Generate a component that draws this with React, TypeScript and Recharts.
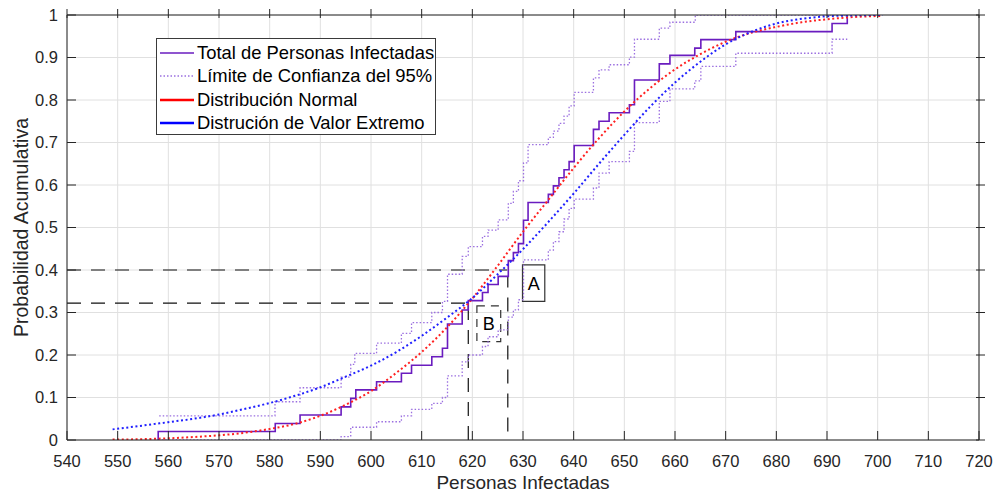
import React from 'react';
import { LineChart, Line, XAxis, YAxis, CartesianGrid, ReferenceLine, ReferenceArea, Legend } from 'recharts';

const xTicks = [540, 550, 560, 570, 580, 590, 600, 610, 620, 630, 640, 650, 660, 670, 680, 690, 700, 710, 720];
const yTicks = [0, 0.1, 0.2, 0.3, 0.4, 0.5, 0.6, 0.7, 0.8, 0.9, 1];

const ecdfX = [558, 558, 581.1, 586, 594.1, 596, 597, 601.1, 606, 608, 612, 614.1, 615.1, 618, 619.2, 622, 623.1, 625.1, 627.1, 628.1, 629.1, 630.1, 631, 635, 636, 637.1, 638.1, 639.1, 640.1, 643.9, 645, 647, 651, 652, 656.9, 659, 663.9, 665.1, 672, 691, 694];
const ecdfY = [0, 0.02, 0.039, 0.059, 0.078, 0.098, 0.118, 0.137, 0.157, 0.176, 0.196, 0.216, 0.273, 0.306, 0.328, 0.347, 0.366, 0.385, 0.422, 0.441, 0.462, 0.517, 0.559, 0.578, 0.598, 0.617, 0.636, 0.655, 0.693, 0.731, 0.75, 0.77, 0.789, 0.847, 0.885, 0.905, 0.922, 0.942, 0.961, 0.98, 1];

// 95% confidence bounds
const upperX = [558.2, 581.05, 586, 594.1, 596, 596.8, 601.1, 606, 608, 612, 614.1, 615.1, 618, 619.2, 622, 623.1, 625.1, 627.1, 628.1, 629.1, 630.1, 631, 635, 636, 637.1, 638.1, 639.1, 640.1, 643.9, 645, 647, 651, 652, 656.9, 659, 664, 694];
const upperY = [0.057, 0.09, 0.123, 0.148, 0.178, 0.204, 0.228, 0.251, 0.276, 0.3, 0.326, 0.39, 0.432, 0.455, 0.479, 0.494, 0.518, 0.557, 0.585, 0.61, 0.652, 0.695, 0.712, 0.727, 0.745, 0.762, 0.786, 0.818, 0.852, 0.871, 0.883, 0.901, 0.943, 0.969, 0.983, 1, 1];
const lowerX = [558, 594.1, 596, 601.1, 606, 608, 612, 614.1, 615.1, 618, 619.2, 622, 623.1, 625.1, 627.1, 628.1, 629.1, 630.1, 635, 636, 637.1, 638.1, 639.1, 640.1, 643.9, 645, 647, 651, 652, 656.9, 659, 663.9, 665.1, 672, 691, 694];
const lowerY = [0, 0.008, 0.03, 0.043, 0.057, 0.072, 0.086, 0.1, 0.151, 0.184, 0.2, 0.22, 0.243, 0.259, 0.289, 0.306, 0.33, 0.424, 0.447, 0.467, 0.49, 0.52, 0.545, 0.567, 0.593, 0.628, 0.655, 0.679, 0.747, 0.797, 0.826, 0.845, 0.879, 0.91, 0.943, 0.943];

// fitted curves
const fitX = [549, 555, 560, 565, 570, 575, 580, 585, 590, 595, 600, 605, 610, 615, 620, 625, 630, 635, 640, 645, 650, 655, 660, 665, 670, 675, 680, 685, 690, 695, 701];
const normalY = [0.001, 0.002, 0.004, 0.007, 0.011, 0.017, 0.026, 0.038, 0.057, 0.083, 0.115, 0.158, 0.207, 0.265, 0.333, 0.41, 0.49, 0.565, 0.64, 0.71, 0.773, 0.827, 0.872, 0.908, 0.937, 0.958, 0.972, 0.983, 0.99, 0.995, 0.998];
const extremeY = [0.025, 0.034, 0.042, 0.05, 0.06, 0.073, 0.087, 0.104, 0.124, 0.149, 0.175, 0.207, 0.245, 0.288, 0.334, 0.39, 0.449, 0.513, 0.58, 0.65, 0.718, 0.783, 0.841, 0.89, 0.931, 0.96, 0.98, 0.991, 0.997, 0.999, 1];

const toPoints = (xs: number[], ys: number[]) => xs.map((x, i) => ({ x, y: ys[i] }));

const legendItems = [
    { name: 'Total de Personas Infectadas', color: '#6a1cbf', width: 1.5, dash: '' },
    { name: 'Límite de Confianza del 95%', color: '#9b6fe0', width: 1.3, dash: '1.5 2' },
    { name: 'Distribución Normal', color: '#ff0000', width: 2.5, dash: '' },
    { name: 'Distrución de Valor Extremo', color: '#0000ff', width: 2.5, dash: '' },
];

const FONT = '"Liberation Sans", Arial, Helvetica, sans-serif';
const AXIS = '#262626';
const TICK_LEN = 9;

const ChartLegend = () => (
    <div style={{ boxSizing: 'border-box', width: 280, height: 97, border: '1px solid #3a3a3a', background: '#fff', padding: '2px 0 0 3px', fontFamily: FONT }}>
        {legendItems.map(item => (
            <div key={item.name} style={{ display: 'flex', alignItems: 'center', height: 23.5 }}>
                <svg width={36} height={10}>
                    <line x1={0} y1={5} x2={34} y2={5} stroke={item.color} strokeWidth={item.width} strokeDasharray={item.dash || undefined} />
                </svg>
                <span style={{ marginLeft: 1, fontSize: 18.4, color: '#000', whiteSpace: 'nowrap' }}>{item.name}</span>
            </div>
        ))}
    </div>
);

const YLabel = ({ viewBox }: any) => {
    const cy = viewBox.y + viewBox.height / 2;
    return (
        <text x={21} y={cy} transform={`rotate(-90, 21, ${cy})`} textAnchor="middle" dominantBaseline="central" fill={AXIS} fontSize={19.5}>
            Probabilidad Acumulativa
        </text>
    );
};

const XLabel = ({ viewBox }: any) => (
    <text x={viewBox.x + viewBox.width / 2} y={489} textAnchor="middle" fill={AXIS} fontSize={19}>
        Personas Infectadas
    </text>
);

// inward tick marks for the top and right sides of the box
const TopTick = ({ x, y }: any) => <line x1={x} y1={y} x2={x} y2={y + TICK_LEN} stroke={AXIS} strokeWidth={1} />;
const RightTick = ({ x, y }: any) => <line x1={x - TICK_LEN} y1={y} x2={x} y2={y} stroke={AXIS} strokeWidth={1} />;

export default function App() {
    return (
        <div style={{ position: 'absolute', left: 0, top: 0, width: 997, height: 493, background: '#fff', fontFamily: FONT }}>
            <LineChart width={997} height={493} margin={{ top: 14, right: 17, bottom: 0, left: 0 }}>
                <CartesianGrid stroke="#e0e0e0" />
                <XAxis dataKey="x" type="number" domain={[540, 720]} ticks={xTicks} interval={0} allowDataOverflow
                    height={53} tickSize={-TICK_LEN} tickMargin={24} stroke={AXIS}
                    tick={{ fill: AXIS, fontSize: 16.5 }}
                    label={<XLabel />} />
                <XAxis xAxisId="top" dataKey="x" type="number" orientation="top" domain={[540, 720]} ticks={xTicks} interval={0} allowDataOverflow
                    height={1} tickLine={false} tickMargin={0} tick={<TopTick />} stroke={AXIS} />
                <YAxis type="number" domain={[0, 1]} ticks={yTicks} interval={0} allowDataOverflow width={67}
                    tickSize={-TICK_LEN} tickMargin={18} stroke={AXIS} tick={{ fill: AXIS, fontSize: 16.5 }}
                    label={<YLabel />} />
                <YAxis yAxisId="right" orientation="right" type="number" domain={[0, 1]} ticks={yTicks} interval={0} allowDataOverflow
                    width={1} tickLine={false} tickMargin={0} tick={<RightTick />} stroke={AXIS} />

                <ReferenceLine segment={[{ x: 540, y: 0.4 }, { x: 626.9, y: 0.4 }]} stroke="#111" strokeDasharray="14 10" strokeWidth={1.2} />
                <ReferenceLine segment={[{ x: 540, y: 0.322 }, { x: 619.2, y: 0.322 }]} stroke="#111" strokeDasharray="14 10" strokeWidth={1.2} />
                <ReferenceLine segment={[{ x: 619.2, y: 0 }, { x: 619.2, y: 0.322 }]} stroke="#111" strokeDasharray="14 10" strokeWidth={1.2} />
                <ReferenceLine segment={[{ x: 627, y: 0.02 }, { x: 627, y: 0.385 }]} stroke="#111" strokeDasharray="14 10" strokeWidth={1.2} />

                <Line data={toPoints(upperX, upperY)} dataKey="y" type="stepAfter" stroke="#9b6fe0" strokeWidth={1.3} strokeDasharray="1.5 2" dot={false} activeDot={false} isAnimationActive={false} />
                <Line data={toPoints(lowerX, lowerY)} dataKey="y" type="stepAfter" stroke="#9b6fe0" strokeWidth={1.3} strokeDasharray="1.5 2" dot={false} activeDot={false} isAnimationActive={false} />
                <Line data={toPoints(ecdfX, ecdfY)} dataKey="y" type="stepAfter" stroke="#6a1cbf" strokeWidth={1.6} dot={false} activeDot={false} isAnimationActive={false} />
                <Line data={toPoints(fitX, normalY)} dataKey="y" type="monotone" stroke="#ff2020" strokeWidth={2} strokeDasharray="2 2.6" dot={false} activeDot={false} isAnimationActive={false} />
                {/* same domains as the main axes, so it lands in the same place and the box axes get data */}
                <Line data={toPoints(fitX, extremeY)} xAxisId="top" yAxisId="right" dataKey="y" type="monotone" stroke="#2020ff" strokeWidth={2} strokeDasharray="2 2.6" dot={false} activeDot={false} isAnimationActive={false} />

                <ReferenceArea x1={629.9} x2={634.3} y1={0.326} y2={0.412} stroke="#333" strokeWidth={1.2} fill="none"
                    label={{ value: 'A', position: 'center', fill: '#000', fontSize: 18 }} />
                <ReferenceArea x1={620.9} x2={625.6} y1={0.2315} y2={0.3155} stroke="#333" strokeWidth={1.2} strokeDasharray="8 6" fill="none"
                    label={{ value: 'B', position: 'center', fill: '#000', fontSize: 18 }} />

                <Legend layout="vertical" align="center" verticalAlign="middle" content={() => <ChartLegend />}
                    wrapperStyle={{ left: 156, top: 38, width: 280, height: 97 }} />
            </LineChart>
        </div>
    );
}
